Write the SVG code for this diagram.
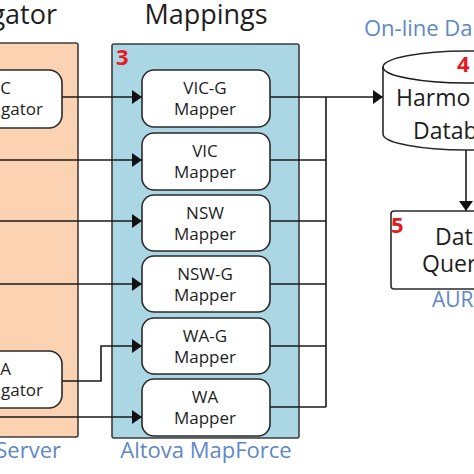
<svg xmlns="http://www.w3.org/2000/svg" width="474" height="474" viewBox="0 0 474 474">
<defs>
<style>
.t{font-family:"Open Sans","Liberation Sans",sans-serif;fill:#1e1e1e}
.title{font-size:27px}
.node{font-size:17px;text-anchor:middle}
.agg{font-size:17px;text-anchor:end}
.blue{font-family:"Open Sans","Liberation Sans",sans-serif;fill:#5e88c4}
.red{font-family:"Open Sans","Liberation Sans",sans-serif;font-weight:bold;fill:#e8191e;font-size:22px}
.box{fill:#fff;stroke:#2a2a2a;stroke-width:1.6}
.ln{fill:none;stroke:#1a1a1a;stroke-width:1.6}
</style>
<marker id="ah" viewBox="0 0 10 14" refX="10" refY="7" markerWidth="10" markerHeight="14" markerUnits="userSpaceOnUse" orient="auto">
<path d="M0,0 L10,7 L0,14 Z" fill="#111"/>
</marker>
</defs>

<!-- titles -->
<text class="t title" x="57" y="24" text-anchor="end">gator</text>
<text class="t title" x="206" y="24" text-anchor="middle">Mappings</text>
<text class="blue" x="364" y="36" font-size="22">On-line Da</text>

<!-- panels -->
<g id="aggregator-panel">
<rect x="-20" y="43" width="98" height="394" rx="2" fill="#fbd3b3" stroke="#3c3c3c" stroke-width="1.6"/>
<text class="blue" x="61" y="458" font-size="22" text-anchor="end">Server</text>
</g>
<g id="mapforce-panel">
<rect x="112" y="44" width="187" height="394" rx="2" fill="#abd6e4" stroke="#3c3c3c" stroke-width="1.6"/>
<text class="red" x="116" y="65">3</text>
<text class="blue" x="206" y="458" font-size="22" text-anchor="middle">Altova MapForce</text>
</g>

<!-- connectors -->
<g id="connectors">
<path class="ln" d="M62,97 H142" marker-end="url(#ah)"/>
<path class="ln" d="M0,160 H142" marker-end="url(#ah)"/>
<path class="ln" d="M0,221 H142" marker-end="url(#ah)"/>
<path class="ln" d="M0,284 H142" marker-end="url(#ah)"/>
<path class="ln" d="M62,381 H101 V346 H142" marker-end="url(#ah)"/>
<path class="ln" d="M0,417 H142" marker-end="url(#ah)"/>
<path class="ln" d="M270,97 H383" marker-end="url(#ah)"/>
<path class="ln" d="M270,160 H326 M270,221 H326 M270,284 H326 M270,346 H326 M270,407 H326 M326,97 V407"/>
<path class="ln" d="M466,150 V211" marker-end="url(#ah)"/>
</g>

<!-- aggregators -->
<g id="vic-aggregator">
<rect class="box" x="-60" y="70" width="122" height="58" rx="13"/>
<text class="t agg" x="11" y="94">C</text>
<text class="t agg" x="43" y="115">gator</text>
</g>
<g id="wa-aggregator">
<rect class="box" x="-60" y="351" width="122" height="57" rx="13"/>
<text class="t agg" x="11" y="375">A</text>
<text class="t agg" x="43" y="396">gator</text>
</g>

<!-- mappers -->
<g id="vic-g-mapper">
<rect class="box" x="142" y="70" width="128" height="57" rx="12"/>
<text class="t node" x="205" y="94">VIC-G</text>
<text class="t node" x="205" y="115">Mapper</text>
</g>
<g id="vic-mapper">
<rect class="box" x="142" y="133" width="128" height="57" rx="12"/>
<text class="t node" x="205" y="157">VIC</text>
<text class="t node" x="205" y="178">Mapper</text>
</g>
<g id="nsw-mapper">
<rect class="box" x="142" y="195" width="128" height="56" rx="12"/>
<text class="t node" x="205" y="219">NSW</text>
<text class="t node" x="205" y="240">Mapper</text>
</g>
<g id="nsw-g-mapper">
<rect class="box" x="142" y="256" width="128" height="56" rx="12"/>
<text class="t node" x="205" y="280">NSW-G</text>
<text class="t node" x="205" y="301">Mapper</text>
</g>
<g id="wa-g-mapper">
<rect class="box" x="142" y="318" width="128" height="56" rx="12"/>
<text class="t node" x="205" y="342">WA-G</text>
<text class="t node" x="205" y="363">Mapper</text>
</g>
<g id="wa-mapper">
<rect class="box" x="142" y="379" width="128" height="57" rx="12"/>
<text class="t node" x="205" y="403">WA</text>
<text class="t node" x="205" y="424">Mapper</text>
</g>

<!-- database -->
<g id="harmonised-database">
<path class="box" d="M383,67 A83,16 0 0 1 549,67 V134 A83,16 0 0 1 383,134 Z"/>
<path class="ln" d="M383,67 A83,16 0 0 0 549,67"/>
<text class="red" x="457" y="72">4</text>
<text class="t" x="396" y="106" font-size="23">Harmo</text>
<text class="t" x="413" y="139" font-size="23">Datab</text>
</g>

<!-- data query -->
<g id="data-query">
<rect class="box" x="391" y="211" width="120" height="78" rx="3"/>
<text class="red" x="391" y="233">5</text>
<text class="t" x="435" y="245" font-size="23">Dat</text>
<text class="t" x="422" y="272" font-size="23">Quer</text>
<text class="blue" x="432" y="307" font-size="21">AUR</text>
</g>
</svg>
